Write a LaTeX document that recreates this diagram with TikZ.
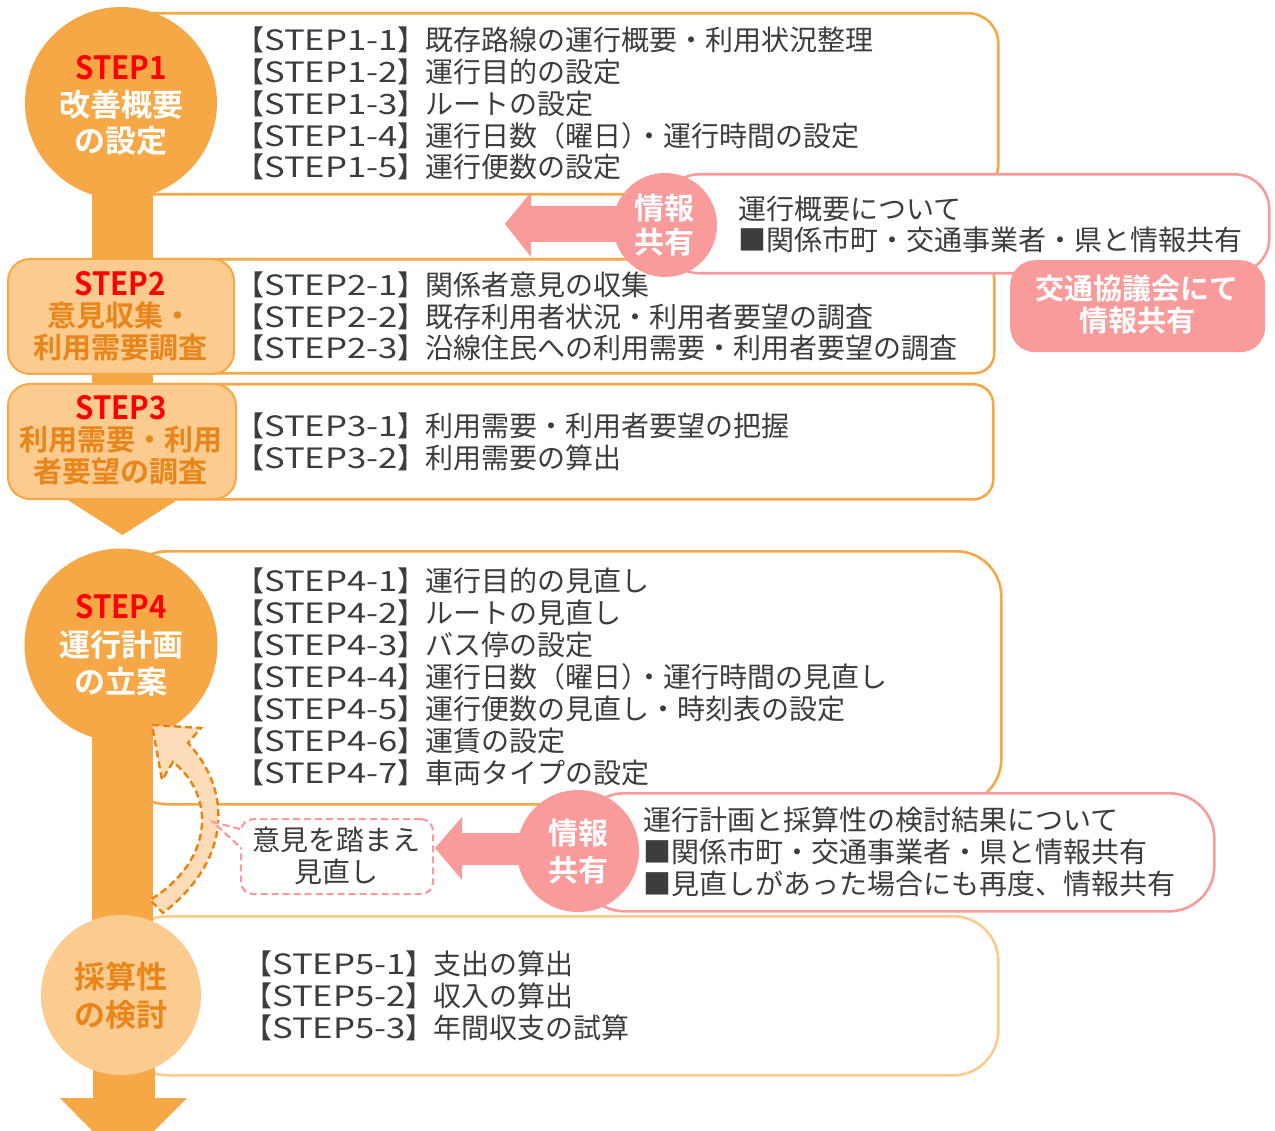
\documentclass[tikz,border=0pt]{standalone}
\usepackage{fontspec}
\setmainfont{Noto Sans CJK JP}[BoldFont={Noto Sans CJK JP Bold}]
\usepackage{graphicx}
\definecolor{cOr}{HTML}{F7A846}
\definecolor{cLF}{HTML}{FBCB8F}
\definecolor{cLt}{HTML}{FDCB8E}
\definecolor{cDk}{HTML}{E8861C}
\definecolor{cRd}{HTML}{FF0000}
\definecolor{cPk}{HTML}{FA9B9B}
\definecolor{cPe}{HTML}{FDDCB9}
\definecolor{cDo}{HTML}{E8830E}
\definecolor{cTx}{HTML}{3D3D3D}
\newcommand\mystep[1]{\scalebox{1.24}[1]{#1}}
\newcommand\redstep[1]{\scalebox{0.92}[1]{#1}}
\newcommand\tightdot{）\kern-14pt・}
\tikzset{
  bx/.style={draw=cOr, line width=2.6pt, fill=white, rectangle, inner sep=0pt, anchor=north west},
  lab/.style={draw=cOr, line width=2pt, fill=cLF, rectangle, rounded corners=22pt, inner sep=0pt, anchor=north west},
  pbx/.style={draw=cPk, line width=2.6pt, fill=white, rectangle, inner sep=0pt, anchor=north west},
  circ/.style={circle, inner sep=0pt, fill=cOr},
  ln/.style={anchor=west, inner sep=0pt, text=cTx, font=\fontsize{28}{32}\selectfont},
  wt/.style={text=white, font=\bfseries\fontsize{31}{36}\selectfont, inner sep=0pt},
  ot/.style={text=cDk, font=\bfseries\fontsize{29}{34}\selectfont, inner sep=0pt},
  rt/.style={text=cRd, font=\bfseries\fontsize{32}{36}\selectfont, inner sep=0pt},
  pw/.style={text=white, font=\bfseries\fontsize{30}{34}\selectfont, inner sep=0pt},
}
\begin{document}
\begin{tikzpicture}[x=1pt,y=-1pt]
\useasboundingbox (0,0) rectangle (1275,1131);
\clip (0,0) rectangle (1275,1131);
\fill[white] (0,0) rectangle (1275,1131);

% detail boxes
\node[bx, rounded corners=30pt, minimum width=876pt, minimum height=181pt] (b1) at (121,12) {};
\node[bx, rounded corners=20pt, minimum width=872pt, minimum height=114pt] (b2) at (121,258) {};
\node[bx, rounded corners=20pt, minimum width=871pt, minimum height=115pt] (b3) at (121,383) {};
\node[bx, rounded corners=45pt, minimum width=879pt, minimum height=253pt] (b4) at (121,550) {};
\node[bx, draw=cLt, rounded corners=45pt, minimum width=876pt, minimum height=159pt] (b5) at (121,915) {};

% info boxes
\node[pbx, rounded corners=35pt, minimum width=605pt, minimum height=99pt] (p1) at (663,173) {};
\node[fill=cPk, rectangle, rounded corners=25pt, inner sep=0pt, anchor=north west, minimum width=255pt, minimum height=92pt] (kb) at (1010,260) {};
\node[pbx, rounded corners=45pt, minimum width=635pt, minimum height=118pt] (p2) at (578,792) {};

% vertical bars
\coordinate (c1) at (121,103);
\coordinate (c4) at (121,645);
\coordinate (c5) at (121,995);
\fill[cOr] (92,103) rectangle (153,498);
\fill[cOr] (63,497) -- (182,497) -- (122.5,535) -- cycle;
\fill[cOr] (92,645) rectangle (153,995);
\fill[cOr] (93,995) rectangle (155,1099);
\fill[cOr] (60,1098) -- (187,1098) -- (123,1162) -- cycle;

% circles
\node[circ, minimum size=192pt] (C1) at (c1) {};
\node[circ, minimum size=193pt] (C4) at (c4) {};
\node[circ, fill=cLF, minimum size=160pt] (C5) at (c5) {};

% label boxes
\node[lab, minimum width=226pt, minimum height=115pt] (L2) at (7,258) {};
\node[lab, minimum width=228pt, minimum height=115pt] (L3) at (7,383) {};

% pink arrows and info circles
\fill[cPk] (505,224) -- (531,192) -- (531,206) -- (664,206) -- (664,242) -- (531,242) -- (531,257) -- cycle;
\node[circle, fill=cPk, inner sep=0pt, minimum size=104pt] (I1) at (665,225) {};
\fill[cPk] (435,848) -- (462,817) -- (462,833) -- (578,833) -- (578,865) -- (462,865) -- (462,880) -- cycle;
\node[circle, fill=cPk, inner sep=0pt, minimum size=122pt] (I2) at (578,851) {};

% curved arrow
\draw[cDo, fill=cPe, line width=2.4pt, dash pattern=on 7pt off 4pt, line join=miter]
  (152,725) -- (201,728) -- (188,743)
  .. controls (232,790) and (232,860) .. (163,913)
  -- (150,900)
  .. controls (215,860) and (215,795) .. (173,762)
  -- (162,780) -- cycle;

% callout
\node[draw=cPk, line width=2.2pt, dash pattern=on 7pt off 4pt, fill=white, rectangle, rounded corners=12pt, inner sep=0pt, anchor=north west, minimum width=192pt, minimum height=75pt] (cb) at (240,818) {};
\coordinate (tip) at (213,822);
\fill[white] (tip) -- (242,829) -- (242,848) -- cycle;
\draw[cPk, line width=2.2pt, dash pattern=on 7pt off 4pt] (240,829) -- (tip) -- (240,847);
\node[text=cTx, font=\fontsize{28}{32}\selectfont, inner sep=0pt] (cbt1) at (336,840) {意見を踏まえ};
\node[text=cTx, font=\fontsize{28}{32}\selectfont, inner sep=0pt] (cbt2) at (336,872) {見直し};

% circle labels
\node[rt] (s1) at (121,68) {\redstep{STEP1}};
\node[wt] (s1a) at (121,105) {改善概要};
\node[wt] (s1b) at (121,141) {の設定};
\node[rt] (s2) at (120,284) {\redstep{STEP2}};
\node[ot] (s2a) at (120,316) {意見収集・};
\node[ot] (s2b) at (120,348) {利用需要調査};
\node[rt] (s3) at (121,408) {\redstep{STEP3}};
\node[ot] (s3a) at (121,440) {利用需要・利用};
\node[ot] (s3b) at (121,472) {者要望の調査};
\node[rt] (s4) at (121,607) {\redstep{STEP4}};
\node[wt] (s4a) at (121,645) {運行計画};
\node[wt] (s4b) at (121,682) {の立案};
\node[wt, text=cDk] (s5a) at (121,977) {採算性};
\node[wt, text=cDk] (s5b) at (121,1015) {の検討};

% info labels
\node[pw] (i1a) at (664,208) {情報};
\node[pw] (i1b) at (664,242) {共有};
\node[pw] (i2a) at (578,833) {情報};
\node[pw] (i2b) at (578,870) {共有};
\node[pw, font=\bfseries\fontsize{29}{34}\selectfont] (k1) at (1137,289) {交通協議会にて};
\node[pw, font=\bfseries\fontsize{29}{34}\selectfont] (k2) at (1137,321) {情報共有};

% info text
\node[ln] (q1) at (738,209) {運行概要について};
\node[ln] (q2) at (738,240) {■関係市町・交通事業者・県と情報共有};
\node[ln] (r1) at (643,820) {運行計画と採算性の検討結果について};
\node[ln] (r2) at (643,852) {■関係市町・交通事業者・県と情報共有};
\node[ln] (r3) at (643,884) {■見直しがあった場合にも再度、情報共有};

% step lines
\node[ln] (t11) at (236,40) {【\mystep{STEP1-1}】既存路線の運行概要・利用状況整理};
\node[ln] (t12) at (236,72) {【\mystep{STEP1-2}】運行目的の設定};
\node[ln] (t13) at (236,104) {【\mystep{STEP1-3}】ルートの設定};
\node[ln] (t14) at (236,136) {【\mystep{STEP1-4}】運行日数（曜日\tightdot 運行時間の設定};
\node[ln] (t15) at (236,167) {【\mystep{STEP1-5}】運行便数の設定};
\node[ln] (t21) at (236,285) {【\mystep{STEP2-1}】関係者意見の収集};
\node[ln] (t22) at (236,317) {【\mystep{STEP2-2}】既存利用者状況・利用者要望の調査};
\node[ln] (t23) at (236,348) {【\mystep{STEP2-3}】沿線住民への利用需要・利用者要望の調査};
\node[ln] (t31) at (236,426) {【\mystep{STEP3-1}】利用需要・利用者要望の把握};
\node[ln] (t32) at (236,458) {【\mystep{STEP3-2}】利用需要の算出};
\node[ln] (t41) at (236,581) {【\mystep{STEP4-1}】運行目的の見直し};
\node[ln] (t42) at (236,613) {【\mystep{STEP4-2}】ルートの見直し};
\node[ln] (t43) at (236,645) {【\mystep{STEP4-3}】バス停の設定};
\node[ln] (t44) at (236,677) {【\mystep{STEP4-4}】運行日数（曜日\tightdot 運行時間の見直し};
\node[ln] (t45) at (236,709) {【\mystep{STEP4-5}】運行便数の見直し・時刻表の設定};
\node[ln] (t46) at (236,741) {【\mystep{STEP4-6}】運賃の設定};
\node[ln] (t47) at (236,773) {【\mystep{STEP4-7}】車両タイプの設定};
\node[ln] (t51) at (244,964) {【\mystep{STEP5-1}】支出の算出};
\node[ln] (t52) at (244,996) {【\mystep{STEP5-2}】収入の算出};
\node[ln] (t53) at (244,1028) {【\mystep{STEP5-3}】年間収支の試算};
\end{tikzpicture}
\end{document}
